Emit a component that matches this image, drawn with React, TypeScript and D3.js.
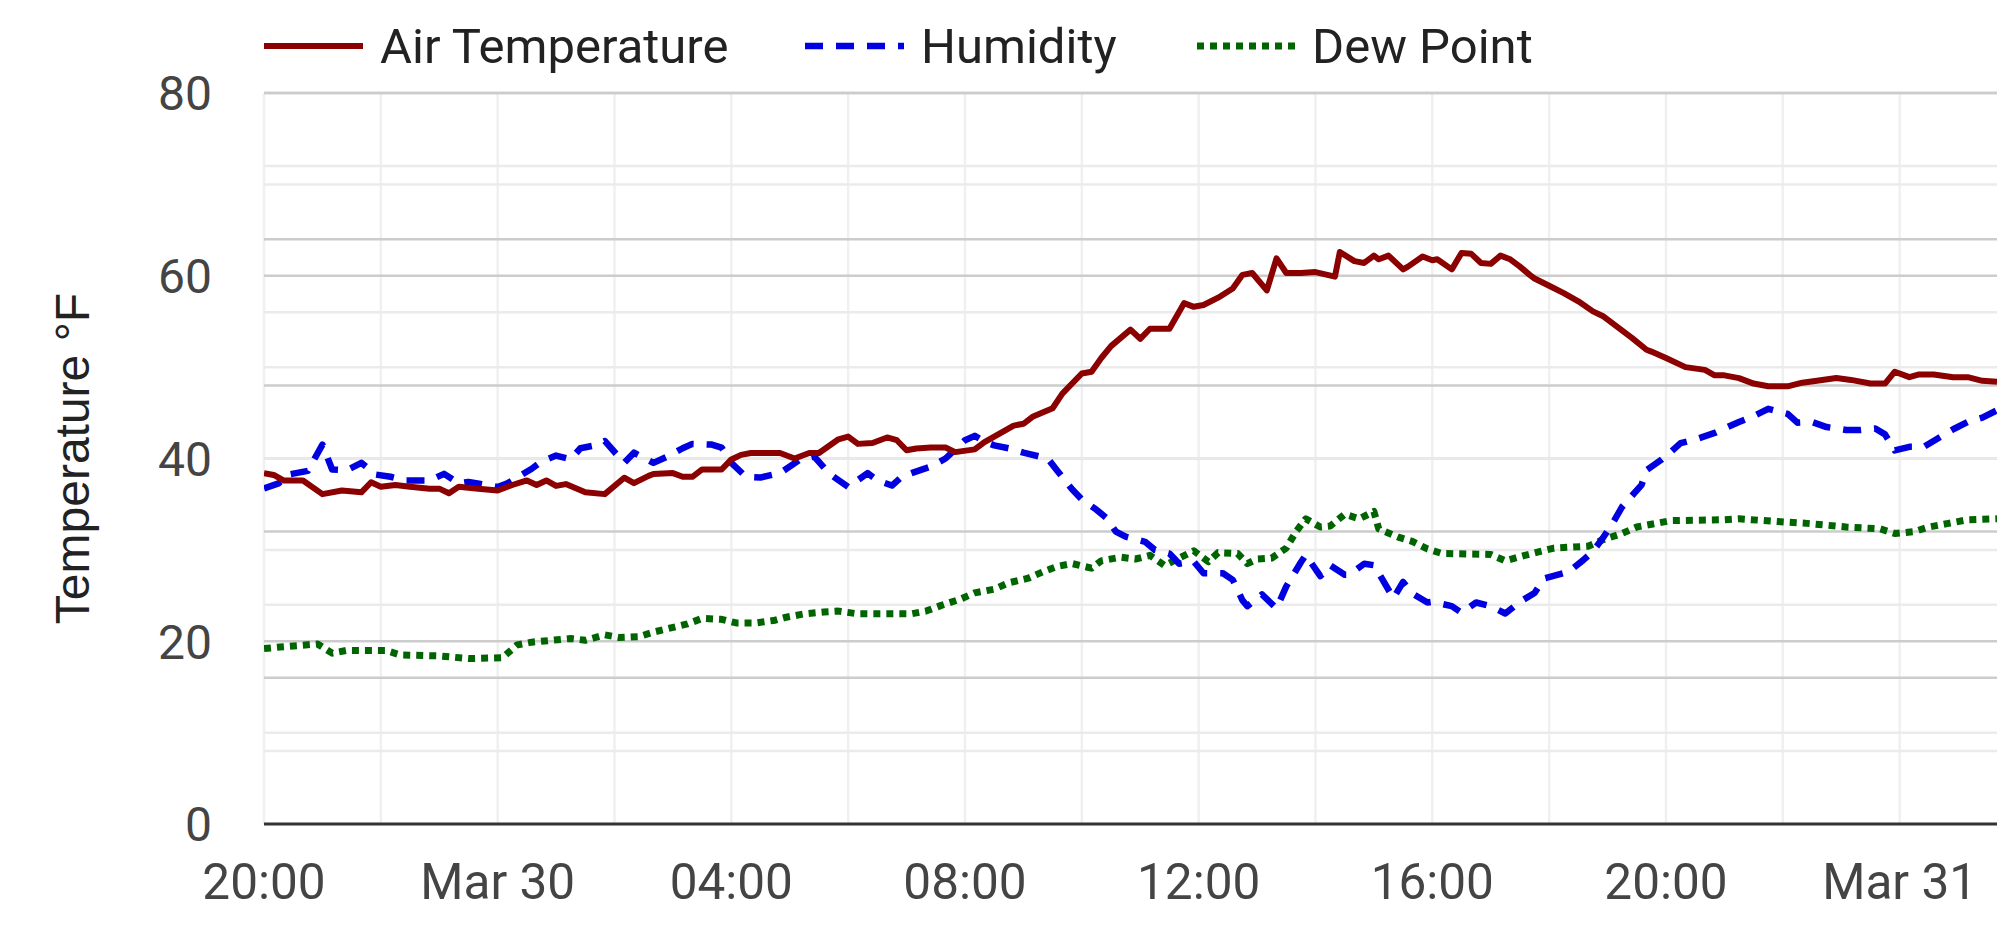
import React from "react";
import * as d3 from "d3";

// ---- data ----
const airTemperature: [string, number][] = [
  ["03-29 20:00",38.4],["03-29 20:10",38.2],["03-29 20:20",37.6],["03-29 20:40",37.6],["03-29 21:00",36.1],["03-29 21:20",36.5],["03-29 21:40",36.3],["03-29 21:50",37.4],["03-29 22:00",36.9],["03-29 22:15",37.1],["03-29 22:30",36.9],["03-29 22:50",36.7],["03-29 23:00",36.7],["03-29 23:10",36.2],["03-29 23:20",36.9],["03-29 23:40",36.7],
  ["03-30 00:00",36.5],["03-30 00:15",37.1],["03-30 00:30",37.6],["03-30 00:40",37.1],["03-30 00:50",37.6],["03-30 01:00",37.0],["03-30 01:10",37.2],["03-30 01:30",36.3],["03-30 01:50",36.1],["03-30 02:10",37.9],["03-30 02:20",37.3],["03-30 02:35",38.1],["03-30 02:40",38.3],["03-30 03:00",38.4],["03-30 03:10",38.0],["03-30 03:20",38.0],["03-30 03:30",38.8],["03-30 03:50",38.8],
  ["03-30 04:00",39.9],["03-30 04:10",40.4],["03-30 04:20",40.6],["03-30 04:50",40.6],["03-30 05:05",40.0],["03-30 05:20",40.6],["03-30 05:30",40.6],["03-30 05:50",42.1],["03-30 06:00",42.4],["03-30 06:10",41.6],["03-30 06:25",41.7],["03-30 06:40",42.3],["03-30 06:50",42.0],["03-30 07:00",40.9],["03-30 07:10",41.1],["03-30 07:25",41.2],["03-30 07:40",41.2],["03-30 07:50",40.7],
  ["03-30 08:10",41.0],["03-30 08:20",41.8],["03-30 08:30",42.4],["03-30 08:50",43.6],["03-30 09:00",43.8],["03-30 09:10",44.6],["03-30 09:30",45.5],["03-30 09:40",47.1],["03-30 10:00",49.3],["03-30 10:10",49.5],["03-30 10:20",51.0],["03-30 10:30",52.3],["03-30 10:50",54.1],["03-30 11:00",53.1],["03-30 11:10",54.2],["03-30 11:30",54.2],["03-30 11:45",57.0],["03-30 11:55",56.6],
  ["03-30 12:05",56.8],["03-30 12:20",57.6],["03-30 12:35",58.6],["03-30 12:45",60.1],["03-30 12:55",60.3],["03-30 13:10",58.4],["03-30 13:20",61.9],["03-30 13:30",60.3],["03-30 13:45",60.3],["03-30 14:00",60.4],["03-30 14:20",59.9],["03-30 14:25",62.6],["03-30 14:40",61.6],["03-30 14:50",61.4],["03-30 15:00",62.2],["03-30 15:05",61.8],["03-30 15:15",62.2],["03-30 15:30",60.7],["03-30 15:35",61.0],["03-30 15:50",62.1],
  ["03-30 16:00",61.7],["03-30 16:05",61.8],["03-30 16:20",60.7],["03-30 16:30",62.5],["03-30 16:40",62.4],["03-30 16:50",61.4],["03-30 17:00",61.3],["03-30 17:10",62.2],["03-30 17:20",61.8],["03-30 17:30",61.0],["03-30 17:40",60.1],["03-30 17:45",59.7],["03-30 18:00",58.9],["03-30 18:15",58.1],["03-30 18:30",57.2],["03-30 18:45",56.1],["03-30 18:55",55.6],["03-30 19:10",54.4],["03-30 19:25",53.2],["03-30 19:40",51.9],["03-30 19:45",51.7],
  ["03-30 20:00",51.0],["03-30 20:20",50.0],["03-30 20:40",49.7],["03-30 20:50",49.1],["03-30 21:00",49.1],["03-30 21:15",48.8],["03-30 21:30",48.2],["03-30 21:45",47.9],["03-30 22:05",47.9],["03-30 22:20",48.3],["03-30 22:35",48.5],["03-30 22:55",48.8],["03-30 23:10",48.6],["03-30 23:30",48.2],["03-30 23:45",48.2],["03-30 23:55",49.5],
  ["03-31 00:10",48.9],["03-31 00:20",49.2],["03-31 00:35",49.2],["03-31 00:55",48.9],["03-31 01:10",48.9],["03-31 01:25",48.5],["03-31 01:40",48.4],
];

// relative humidity, % (plotted against the hidden right axis 0-100)
const humidity: [string, number][] = [
  ["03-29 20:00",45.9],["03-29 20:15",46.6],["03-29 20:25",47.8],["03-29 20:45",48.3],["03-29 21:00",51.9],["03-29 21:10",48.5],["03-29 21:25",48.4],["03-29 21:40",49.4],["03-29 21:55",47.8],["03-29 22:10",47.5],["03-29 22:25",47.0],["03-29 22:50",47.0],["03-29 23:05",47.9],["03-29 23:20",46.6],["03-29 23:30",46.8],
  ["03-30 00:00",46.1],["03-30 00:10",46.6],["03-30 00:35",48.6],["03-30 00:45",49.6],["03-30 01:00",50.4],["03-30 01:15",49.9],["03-30 01:25",51.4],["03-30 01:40",51.8],["03-30 01:50",52.4],["03-30 02:10",49.4],["03-30 02:20",50.8],["03-30 02:40",49.4],["03-30 02:55",50.3],["03-30 03:10",51.4],["03-30 03:20",52.0],["03-30 03:40",51.9],["03-30 03:50",51.5],
  ["03-30 04:00",49.4],["03-30 04:15",47.5],["03-30 04:30",47.4],["03-30 04:50",48.0],["03-30 05:10",49.8],["03-30 05:25",50.3],["03-30 05:40",48.0],["03-30 06:00",46.1],["03-30 06:20",48.0],["03-30 06:30",47.0],["03-30 06:45",46.3],["03-30 06:55",47.5],["03-30 07:05",48.0],["03-30 07:25",48.9],["03-30 07:40",50.0],
  ["03-30 08:00",52.5],["03-30 08:10",53.1],["03-30 08:20",52.3],["03-30 08:30",51.8],["03-30 08:45",51.4],["03-30 09:00",50.8],["03-30 09:25",50.0],["03-30 09:35",48.3],["03-30 09:50",45.8],["03-30 10:00",44.4],["03-30 10:15",43.0],["03-30 10:25",41.9],["03-30 10:35",40.0],["03-30 10:45",39.3],["03-30 11:05",38.6],["03-30 11:15",37.5],["03-30 11:30",37.0],["03-30 11:40",35.6],["03-30 11:55",35.9],
  ["03-30 12:05",34.3],["03-30 12:25",34.3],["03-30 12:35",33.4],["03-30 12:45",30.6],["03-30 12:50",29.8],["03-30 13:05",31.4],["03-30 13:20",29.5],["03-30 13:30",32.5],["03-30 13:45",35.8],["03-30 13:50",36.8],["03-30 14:05",33.9],["03-30 14:15",35.4],["03-30 14:30",34.1],["03-30 14:35",34.1],["03-30 14:50",35.6],["03-30 15:00",35.4],["03-30 15:05",34.3],["03-30 15:20",30.9],["03-30 15:30",33.1],["03-30 15:40",31.5],["03-30 15:55",30.3],
  ["03-30 16:00",30.4],["03-30 16:20",29.8],["03-30 16:30",28.9],["03-30 16:45",30.3],["03-30 17:00",29.8],["03-30 17:15",28.8],["03-30 17:30",30.4],["03-30 17:45",31.6],["03-30 17:55",33.6],["03-30 18:20",34.5],["03-30 18:35",36.1],["03-30 18:45",37.3],["03-30 18:55",39.1],["03-30 19:05",41.1],["03-30 19:15",43.4],["03-30 19:35",46.4],["03-30 19:40",48.4],["03-30 19:55",49.8],
  ["03-30 20:05",50.9],["03-30 20:15",52.1],["03-30 20:30",52.6],["03-30 20:50",53.5],["03-30 21:05",54.4],["03-30 21:15",55.0],["03-30 21:30",55.8],["03-30 21:45",56.8],["03-30 22:05",56.1],["03-30 22:15",54.9],["03-30 22:30",55.0],["03-30 22:45",54.3],["03-30 23:05",53.9],["03-30 23:20",53.9],["03-30 23:35",54.1],["03-30 23:45",53.3],["03-30 23:55",51.1],
  ["03-31 00:10",51.6],["03-31 00:25",51.6],["03-31 00:40",52.8],["03-31 00:55",54.0],["03-31 01:10",55.0],["03-31 01:25",55.6],["03-31 01:40",56.6],
];

const dewPoint: [string, number][] = [
  ["03-29 20:00",19.2],["03-29 20:20",19.4],["03-29 20:55",19.7],["03-29 21:10",18.7],["03-29 21:25",19.0],["03-29 22:05",19.0],["03-29 22:20",18.5],["03-29 23:00",18.4],["03-29 23:30",18.1],
  ["03-30 00:05",18.2],["03-30 00:20",19.6],["03-30 00:35",19.9],["03-30 01:15",20.3],["03-30 01:30",20.1],["03-30 01:50",20.7],["03-30 02:05",20.4],["03-30 02:25",20.5],["03-30 02:40",21.0],["03-30 03:15",21.9],["03-30 03:30",22.5],["03-30 03:50",22.4],
  ["03-30 04:05",22.0],["03-30 04:25",22.0],["03-30 04:45",22.3],["03-30 04:55",22.6],["03-30 05:15",23.0],["03-30 05:35",23.2],["03-30 05:50",23.3],["03-30 06:10",23.0],["03-30 07:05",23.0],["03-30 07:20",23.3],["03-30 07:35",23.9],["03-30 07:55",24.6],
  ["03-30 08:10",25.3],["03-30 08:30",25.7],["03-30 08:45",26.4],["03-30 09:05",26.9],["03-30 09:20",27.6],["03-30 09:35",28.2],["03-30 09:50",28.5],["03-30 10:10",28.0],["03-30 10:20",28.8],["03-30 10:40",29.2],["03-30 10:55",29.0],["03-30 11:10",29.4],["03-30 11:25",28.3],["03-30 11:40",29.1],["03-30 11:55",29.9],
  ["03-30 12:10",28.7],["03-30 12:20",29.7],["03-30 12:40",29.6],["03-30 12:50",28.5],["03-30 13:00",29.0],["03-30 13:15",29.1],["03-30 13:30",30.2],["03-30 13:40",32.0],["03-30 13:50",33.4],["03-30 14:05",32.5],["03-30 14:15",32.6],["03-30 14:30",33.9],["03-30 14:45",33.4],["03-30 15:00",34.2],["03-30 15:05",32.3],["03-30 15:25",31.4],["03-30 15:40",30.9],["03-30 15:55",30.1],
  ["03-30 16:10",29.6],["03-30 17:00",29.5],["03-30 17:15",28.8],["03-30 17:35",29.4],["03-30 17:50",29.8],["03-30 18:05",30.2],["03-30 18:40",30.4],["03-30 18:55",31.1],["03-30 19:15",31.8],["03-30 19:30",32.5],["03-30 19:50",32.9],
  ["03-30 20:05",33.2],["03-30 21:00",33.3],["03-30 21:15",33.4],["03-30 21:55",33.1],["03-30 22:25",32.9],["03-30 23:05",32.5],["03-30 23:40",32.3],["03-30 23:55",31.8],
  ["03-31 00:15",32.0],["03-31 00:30",32.5],["03-31 00:50",32.9],["03-31 01:10",33.3],["03-31 01:40",33.4],
];

const timeDomain: [string, string] = ["03-29 20:00", "03-31 01:40"];
const leftTicksMajor = [20, 40, 60, 80];
const leftTicksMinor = [10, 30, 50, 70];
const leftTickLabels = [0, 20, 40, 60, 80];
const rightTicksMajor = [20, 40, 60, 80, 100];
const rightTicksMinor = [10, 30, 50, 70, 90];
const legendLabels = ["Air Temperature", "Humidity", "Dew Point"];

const W = 1997;
const H = 944;
const M = { left: 264, right: 1997, top: 93, bottom: 824 };

const parse = d3.utcParse("%m-%d %H:%M");

export default function App() {
  React.useEffect(() => {
    document.body.style.margin = "0";
    document.body.style.overflow = "hidden";
  }, []);

  const x = d3
    .scaleUtc()
    .domain(timeDomain.map((s) => parse(s)!) as [Date, Date])
    .range([M.left, M.right]);
  const yL = d3.scaleLinear().domain([0, 80]).range([M.bottom, M.top]);
  const yR = d3.scaleLinear().domain([0, 100]).range([M.bottom, M.top]);

  const lineL = d3
    .line<[string, number]>()
    .x((d) => x(parse(d[0])!))
    .y((d) => yL(d[1]));
  const lineR = d3
    .line<[string, number]>()
    .x((d) => x(parse(d[0])!))
    .y((d) => yR(d[1]));

  const [d0, d1] = x.domain();
  const minorTimes = d3.utcHour.every(2)!.range(d0, d1);
  const majorTimes = d3.utcHour.every(4)!.range(d0, new Date(+d1 + 1));
  const fmt = (d: Date) =>
    d.getUTCHours() === 0 ? d3.utcFormat("%b %d")(d) : d3.utcFormat("%H:%M")(d);

  const fontTick = "Roboto, 'Noto Sans', sans-serif";
  const light = "#ebebeb";
  const dark = "#cccccc";

  const legend = [
    { label: legendLabels[0], x0: 264, tx: 380, color: "#8b0000", dash: "none", w: 6 },
    { label: legendLabels[1], x0: 805, tx: 921, color: "#0000e0", dash: "18 13", w: 6.5 },
    { label: legendLabels[2], x0: 1197, tx: 1312, color: "#006400", dash: "7 6", w: 7 },
  ];

  return (
    <svg
      width={W}
      height={H}
      style={{ position: "absolute", left: 0, top: 0, background: "#fff" }}
    >
      <defs>
        <clipPath id="plot">
          <rect x={M.left} y={0} width={M.right - M.left} height={M.bottom + 10} />
        </clipPath>
      </defs>
      <rect width={W} height={H} fill="#fff" />

      {/* vertical gridlines */}
      {minorTimes.map((t, i) => (
        <line key={"v" + i} x1={x(t)} x2={x(t)} y1={M.top} y2={M.bottom} stroke="#f0f0f0" strokeWidth={2.5} />
      ))}
      {/* horizontal gridlines: left axis then right axis */}
      {leftTicksMinor.map((v) => (
        <line key={"lm" + v} x1={M.left} x2={M.right} y1={yL(v)} y2={yL(v)} stroke={light} strokeWidth={2.5} />
      ))}
      {leftTicksMajor.map((v) => (
        <line key={"lM" + v} x1={M.left} x2={M.right} y1={yL(v)} y2={yL(v)} stroke={dark} strokeWidth={2.5} />
      ))}
      {rightTicksMinor.map((v) => (
        <line key={"rm" + v} x1={M.left} x2={M.right} y1={yR(v)} y2={yR(v)} stroke={light} strokeWidth={2.5} />
      ))}
      {rightTicksMajor.map((v) => (
        <line key={"rM" + v} x1={M.left} x2={M.right} y1={yR(v)} y2={yR(v)} stroke={dark} strokeWidth={2.5} />
      ))}

      {/* baseline */}
      <line x1={M.left} x2={M.right} y1={M.bottom} y2={M.bottom} stroke="#333" strokeWidth={3} />

      {/* series */}
      <g clipPath="url(#plot)" fill="none" strokeLinejoin="round">
        <path d={lineL(dewPoint)!} stroke="#006400" strokeWidth={7} strokeDasharray="7 6" />
        <path d={lineR(humidity)!} stroke="#0000e0" strokeWidth={6.5} strokeDasharray="18 13" />
        <path d={lineL(airTemperature)!} stroke="#8b0000" strokeWidth={6} />
      </g>

      {/* y tick labels */}
      {leftTickLabels.map((v) => (
        <text key={"yl" + v} x={212} y={yL(v)} dy="0.36em" textAnchor="end" fontFamily={fontTick} fontSize={48} fill="#444">
          {v}
        </text>
      ))}
      {/* x tick labels */}
      {majorTimes.map((t, i) => (
        <text key={"xl" + i} x={x(t)} y={899} textAnchor="middle" fontFamily={fontTick} fontSize={49.5} fill="#444">
          {fmt(t)}
        </text>
      ))}

      {/* axis title */}
      <text
        transform={`translate(89, ${(M.top + M.bottom) / 2}) rotate(-90)`}
        textAnchor="middle"
        fontFamily="'Liberation Sans', Arial, sans-serif"
        fontSize={48}
        fill="#222"
      >
        Temperature °F
      </text>

      {/* legend */}
      {legend.map((l) => (
        <g key={l.label}>
          <line x1={l.x0} x2={l.x0 + 99} y1={46} y2={46} stroke={l.color} strokeWidth={l.w} strokeDasharray={l.dash} />
          <text x={l.tx} y={63} fontFamily={fontTick} fontSize={49} fill="#222">
            {l.label}
          </text>
        </g>
      ))}
    </svg>
  );
}
